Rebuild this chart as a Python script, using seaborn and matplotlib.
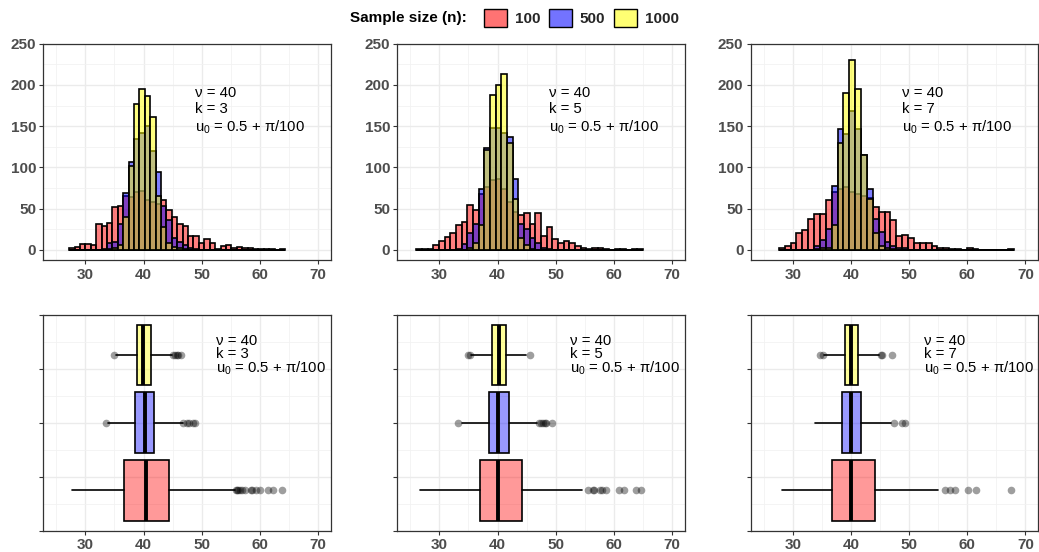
import numpy as np
import pandas as pd
import matplotlib
matplotlib.use("Agg")
import matplotlib.pyplot as plt
from matplotlib.patches import Patch
from matplotlib.ticker import MultipleLocator
from matplotlib.colors import to_rgba
import seaborn as sns

# ---------------------------------------------------------------- data
sample_sizes = ["100", "500", "1000"]
fill_colors = ["#FF0000", "#0000FF", "#FFFF00"]
k_values = [3, 5, 7]

# histogram range (40 equal-width bins) for each k
bin_lo = [27.2, 26.05, 27.6]
bin_hi = [64.4, 65.05, 68.0]

# bin counts, k = 3
k3_n100 = [2, 4, 7, 7, 6, 32, 29, 33, 52, 53, 65, 64, 70, 71, 60, 58, 56, 61, 48, 40,
           31, 29, 17, 17, 9, 13, 9, 1, 5, 6, 3, 4, 2, 2, 1, 1, 1, 1, 0, 1]
k3_n500 = [0, 0, 0, 0, 0, 0, 1, 8, 10, 32, 69, 107, 135, 142, 150, 120, 95, 53, 36, 15,
           10, 6, 3, 1, 0, 0, 0, 0, 0, 0, 0, 0, 0, 0, 0, 0, 0, 0, 0, 0]
k3_n1000 = [0, 0, 0, 0, 0, 0, 0, 1, 2, 6, 40, 102, 177, 195, 187, 161, 65, 28, 8, 4,
            2, 1, 0, 0, 0, 0, 0, 0, 0, 0, 0, 0, 0, 0, 0, 0, 0, 0, 0, 0]

# bin counts, k = 5
k5_n100 = [1, 1, 1, 6, 11, 16, 20, 30, 34, 55, 49, 68, 76, 85, 86, 74, 58, 46, 42, 45,
           32, 45, 17, 28, 13, 9, 11, 8, 5, 3, 1, 3, 3, 1, 0, 1, 1, 0, 1, 1]
k5_n500 = [0, 0, 0, 0, 0, 0, 0, 1, 7, 20, 31, 74, 123, 148, 148, 142, 137, 86, 32, 26,
           14, 8, 3, 1, 0, 0, 0, 0, 0, 0, 0, 0, 0, 0, 0, 0, 0, 0, 0, 0]
k5_n1000 = [0, 0, 0, 0, 0, 0, 0, 0, 0, 2, 9, 30, 121, 188, 200, 213, 130, 62, 14, 6,
            1, 0, 0, 0, 0, 0, 0, 0, 0, 0, 0, 0, 0, 0, 0, 0, 0, 0, 0, 0]

# bin counts, k = 7
k7_n100 = [3, 5, 9, 20, 24, 37, 43, 43, 61, 70, 74, 76, 70, 68, 66, 63, 52, 46, 46, 36,
           17, 18, 15, 9, 9, 8, 5, 3, 2, 1, 1, 0, 2, 1, 0, 0, 0, 0, 0, 1]
k7_n500 = [0, 0, 0, 0, 0, 0, 5, 12, 26, 77, 146, 140, 169, 146, 115, 74, 38, 22, 10, 5,
           2, 2, 0, 0, 0, 0, 0, 0, 0, 0, 0, 0, 0, 0, 0, 0, 0, 0, 0, 0]
k7_n1000 = [0, 0, 0, 0, 0, 0, 1, 2, 3, 30, 130, 190, 230, 195, 115, 62, 20, 5, 2, 1,
            0, 0, 0, 0, 0, 0, 0, 0, 0, 0, 0, 0, 0, 0, 0, 0, 0, 0, 0, 0]

hist_counts = [
    [k3_n100, k3_n500, k3_n1000],
    [k5_n100, k5_n500, k5_n1000],
    [k7_n100, k7_n500, k7_n1000],
]

# box summaries: (whisker low, Q1, median, Q3, whisker high, outliers)
box_k3 = [
    (27.7, 36.72, 40.46, 44.37, 55.7,
     [55.9, 56.1, 56.3, 56.6, 57.0, 57.4, 58.4, 58.7, 59.4, 60.1, 61.4, 62.2, 63.9]),
    (33.85, 38.45, 40.17, 41.78, 46.7, [33.5, 46.8, 47.4, 47.9, 48.5, 48.8]),
    (35.2, 38.85, 39.89, 41.32, 44.9, [35.0, 45.1, 45.4, 45.7, 46.0, 46.5]),
]
box_k5 = [
    (26.63, 37.03, 40.06, 44.29, 54.57,
     [55.6, 56.5, 56.6, 57.6, 57.9, 58.7, 60.9, 61.7, 63.8, 64.6]),
    (33.89, 38.57, 40.11, 41.94, 46.86, [33.2, 47.2, 47.5, 47.8, 48.1, 48.4, 49.3]),
    (35.4, 39.03, 40.23, 41.43, 44.9, [34.9, 35.2, 45.6]),
]
box_k7 = [
    (28.16, 36.72, 40.06, 44.14, 55.06, [56.2, 57.0, 57.9, 60.1, 61.5, 67.5]),
    (33.85, 38.39, 40.06, 41.78, 46.9, [47.36, 48.7, 49.3]),
    (35.3, 38.91, 39.94, 41.26, 44.83, [34.6, 35.2, 45.1, 45.3, 47.0]),
]
box_summaries = [box_k3, box_k5, box_k7]

# ---------------------------------------------------------------- style
sns.set_theme(style="white")
plt.rcParams["font.family"] = ["Liberation Sans", "DejaVu Sans"]
plt.rcParams["mathtext.fontset"] = "custom"
plt.rcParams["mathtext.rm"] = "Liberation Sans"
plt.rcParams["mathtext.it"] = "Liberation Sans:italic"

W, H = 1039, 552
fig = plt.figure(figsize=(W / 100, H / 100), dpi=100)
fig.patch.set_facecolor("white")

panel_left = [43.3, 397.3, 750.7]
panel_w = 287.7
top_row = (43.5, 260.3)
bottom_row = (314.5, 530.7)

TICK_GRAY = "#4D4D4D"
BORDER = "#333333"


def make_axes(x0, y0, y1):
    return fig.add_axes([x0 / W, 1 - y1 / H, panel_w / W, (y1 - y0) / H])


def style_axes(ax):
    ax.set_facecolor("white")
    ax.set_axisbelow(True)
    ax.grid(which="major", color="#EBEBEB", linewidth=1.0)
    ax.grid(which="minor", color="#F2F2F2", linewidth=0.6)
    for sp in ax.spines.values():
        sp.set_visible(True)
        sp.set_color(BORDER)
        sp.set_linewidth(0.9)
    ax.tick_params(which="major", length=3.2, width=0.8, color=BORDER,
                   labelsize=11, labelcolor=TICK_GRAY, pad=2, left=True, bottom=True)
    ax.tick_params(which="minor", length=0)
    ax.set_xlim(22.75, 72.25)
    ax.xaxis.set_major_locator(MultipleLocator(10))
    ax.xaxis.set_minor_locator(MultipleLocator(5))
    ax.set_xlabel("")
    ax.set_ylabel("")
    for lab in ax.get_xticklabels() + ax.get_yticklabels():
        lab.set_fontweight("bold")


def add_label(ax, x, y, k, spacing):
    # three-line parameter block; y is the baseline of the last line
    block = "\n".join(["ν = 40", f"k = {k}", r"u$_{0}$ = 0.5 + π/100"])
    ax.text(x, y, block, fontsize=10.7, color="black", ha="left",
            va="baseline", linespacing=spacing)


for j, k in enumerate(k_values):
    # ---------------- histogram row
    ax = make_axes(panel_left[j], *top_row)
    edges = np.linspace(bin_lo[j], bin_hi[j], 41)
    centers = (edges[:-1] + edges[1:]) / 2
    for cnt, col in zip(hist_counts[j], fill_colors):
        frame = pd.DataFrame({"value": centers, "count": np.asarray(cnt, float)})
        sns.histplot(data=frame, x="value", weights="count", bins=list(edges), ax=ax,
                     facecolor=to_rgba(col, 0.5), edgecolor="black",
                     linewidth=1.2, stat="count")
    ax.set_ylim(-12.5, 250.2)
    ax.yaxis.set_major_locator(MultipleLocator(50))
    ax.yaxis.set_minor_locator(MultipleLocator(25))
    style_axes(ax)
    add_label(ax, 48.8, 143.4, k, 1.2)

    # ---------------- boxplot row
    bx = make_axes(panel_left[j], *bottom_row)
    stats = []
    for lo, q1, med, q3, hi, out in box_summaries[j]:
        stats.append(dict(whislo=lo, q1=q1, med=med, q3=q3, whishi=hi,
                          fliers=np.array(out)))
    parts = bx.bxp(stats, positions=[-0.25, 0.0, 0.25], widths=0.225,
                   orientation="horizontal", patch_artist=True, showcaps=False,
                   manage_ticks=False,
                   boxprops=dict(edgecolor="black", linewidth=1.2),
                   medianprops=dict(color="black", linewidth=2.8,
                                    solid_capstyle="butt"),
                   whiskerprops=dict(color="black", linewidth=1.2),
                   flierprops=dict(marker="o", markerfacecolor="black",
                                   markeredgecolor="none", markersize=5.5,
                                   alpha=0.38))
    for patch, col in zip(parts["boxes"], fill_colors):
        patch.set_facecolor(to_rgba(col, 0.4))
    bx.set_ylim(-0.4, 0.4)
    bx.yaxis.set_major_locator(MultipleLocator(0.2))
    bx.yaxis.set_minor_locator(MultipleLocator(0.1))
    bx.set_yticklabels([])
    style_axes(bx)
    add_label(bx, 52.5, 0.184, k, 0.93)

# ---------------------------------------------------------------- legend
fig.text(350 / W, 1 - 18 / H, "Sample size (n):", fontsize=11, fontweight="bold",
         ha="left", va="center", color="black")
handles = [Patch(facecolor=to_rgba(c, 0.55), edgecolor="black", linewidth=1.0)
           for c in fill_colors]
fig.legend(handles, sample_sizes, loc="center left",
           bbox_to_anchor=(484 / W, 1 - 18 / H), ncol=3, frameon=False,
           prop=dict(weight="bold", size=11), handlelength=1.5, handleheight=1.4,
           handletextpad=0.5, columnspacing=0.6, borderpad=0, borderaxespad=0)

fig.savefig("out.png", dpi=100, facecolor="white")
